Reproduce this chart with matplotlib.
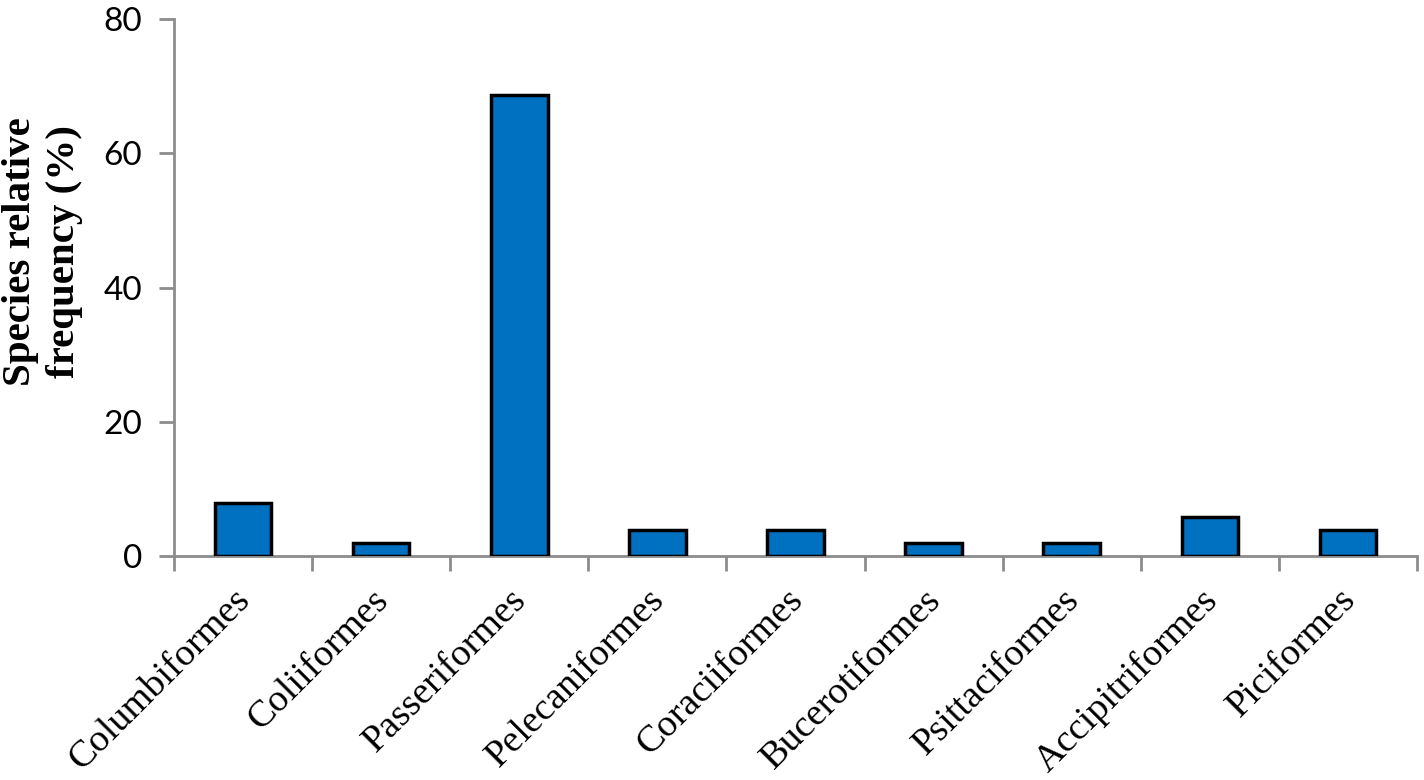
import matplotlib
matplotlib.use("Agg")
import matplotlib.pyplot as plt
import matplotlib.transforms as mtransforms
import numpy as np

categories = ["Columbiformes", "Coliiformes", "Passeriformes", "Pelecaniformes",
              "Coraciiformes", "Bucerotiformes", "Psittaciformes", "Accipitriformes",
              "Piciformes"]
values = [7.84, 1.96, 68.63, 3.92, 3.92, 1.96, 1.96, 5.88, 3.92]
yticks = [0, 20, 40, 60, 80]

fig = plt.figure(figsize=(14.24, 7.80), dpi=100)
ax = fig.add_axes([174/1424, 1-556/780, (1417-174)/1424, (556-19)/780])

x = np.arange(len(categories))
ax.bar(x, values, width=0.41, color="#0070C0", edgecolor="black", linewidth=2.5, zorder=3)

ax.set_xlim(-0.5, len(categories)-0.5)
ax.set_ylim(0, 80)
ax.set_yticks(yticks)
ax.set_yticklabels([str(t) for t in yticks], fontfamily="Lato", fontsize=24)

ax.set_xticks(x)
ax.set_xticklabels(categories, rotation=45, ha="right", rotation_mode="anchor",
                   fontfamily="Liberation Serif", fontsize=27.5)
ax.tick_params(axis="x", length=0, pad=14)
offset = mtransforms.ScaledTranslation(-10/100, -7/100, fig.dpi_scale_trans)
for lab in ax.get_xticklabels():
    lab.set_transform(lab.get_transform() + offset)
ax.set_xticks(np.arange(len(categories)+1) - 0.5, minor=True)
ax.tick_params(axis="x", which="minor", length=11, width=2, color="#8c8c8c")
ax.tick_params(axis="y", length=11, width=2, color="#8c8c8c", pad=12)

for s in ["top", "right"]:
    ax.spines[s].set_visible(False)
for s in ["left", "bottom"]:
    ax.spines[s].set_color("#8c8c8c")
    ax.spines[s].set_linewidth(2)

ax.set_ylabel("Species relative\nfrequency (%)", fontfamily="Liberation Serif",
              fontweight="bold", fontsize=29.5, linespacing=1.25)
ax.yaxis.set_label_coords(-0.073, 0.566)

fig.savefig("out.png", dpi=100)
